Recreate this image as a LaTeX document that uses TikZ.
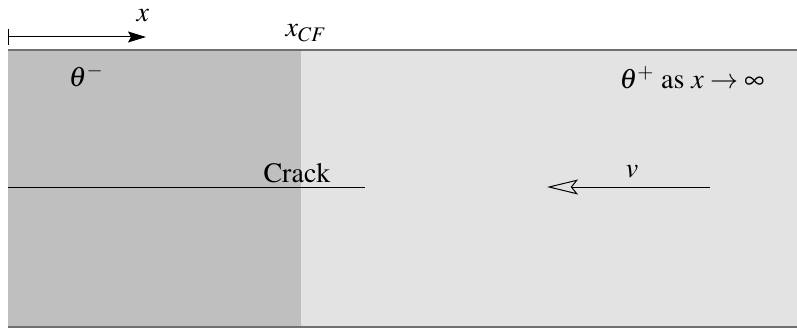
\documentclass[tikz,border=0pt]{standalone}
\usepackage[T1]{fontenc}
\usepackage{mathptmx}
\usetikzlibrary{arrows.meta}
\definecolor{darkreg}{HTML}{BFBFBF}
\definecolor{lightreg}{HTML}{E3E3E3}
\definecolor{edgegray}{HTML}{707070}
\tikzset{
  lbl/.style={inner sep=0pt, font=\fontfamily{ptm}\fontsize{28}{32}\selectfont},
  edge/.style={draw=edgegray, line width=2pt},
}
\begin{document}
\begin{tikzpicture}[x=1pt,y=-1pt]
\useasboundingbox (0,0) rectangle (797,329);
\fill[darkreg] (8,51) rectangle (301,326);
\fill[lightreg] (301,51) rectangle (797,326);
\draw[edge] (8,50) -- (797,50);
\draw[edge] (8,327) -- (797,327);
% x axis arrow
\coordinate (xs) at (8,37);
\coordinate (xe) at (146,37);
\draw[line width=1pt] (8,29) -- (8,45);
\draw[line width=1pt, -{Stealth[length=18pt,width=11pt,inset=3pt]}] (xs) -- (xe);
\node[lbl] (xl) at (143,16) {$x$};
\node[lbl] (xcf) at (306,33) {$x_{CF}$};
\node[lbl] (tm) at (86,76) {$\theta^-$};
\node[lbl] (tp) at (692,78) {$\theta^+$ as $x\to\infty$};
% crack
\coordinate (c1) at (8,187);
\coordinate (c2) at (365,187);
\draw[line width=1pt] (c1) -- (c2);
\node[lbl, anchor=base] (crack) at (297,182) {Crack};
% velocity
\coordinate (v1) at (710,187);
\coordinate (v2) at (547,187);
\draw[line width=1pt, -{Stealth[open,length=31pt,width=15pt,inset=6pt]}] (v1) -- (v2);
\node[lbl] (vl) at (632,172) {$v$};
\end{tikzpicture}
\end{document}
